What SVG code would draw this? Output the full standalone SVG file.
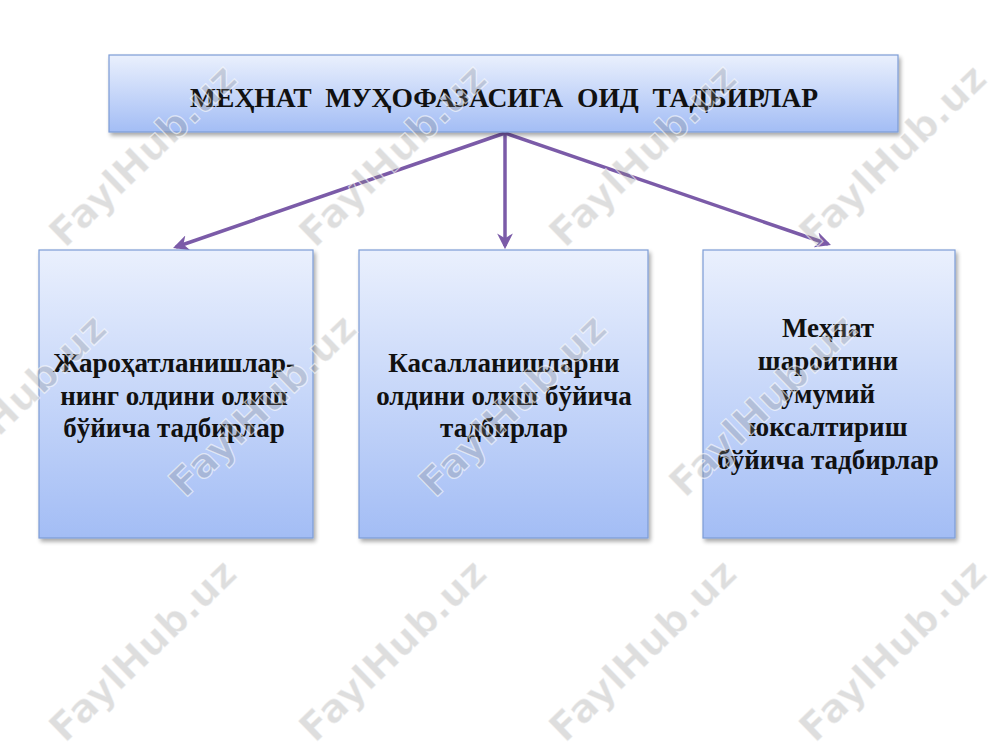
<svg xmlns="http://www.w3.org/2000/svg" width="1000" height="750" viewBox="0 0 1000 750">
  <defs>
    <linearGradient id="boxGrad" x1="0" y1="0" x2="0" y2="1">
      <stop offset="0" stop-color="#eaf0fd"/>
      <stop offset="1" stop-color="#a3bdf5"/>
    </linearGradient>
    <filter id="shadow" x="-10%" y="-10%" width="125%" height="125%">
      <feGaussianBlur in="SourceAlpha" stdDeviation="2"/>
      <feOffset dx="2" dy="3" result="b"/>
      <feComponentTransfer><feFuncA type="linear" slope="0.35"/></feComponentTransfer>
      <feMerge><feMergeNode/><feMergeNode in="SourceGraphic"/></feMerge>
    </filter>
    <marker id="arrow" viewBox="0 0 10 10" refX="8" refY="5" markerWidth="4.5" markerHeight="4.5" orient="auto" markerUnits="strokeWidth">
      <path d="M0,0 L10,5 L0,10 L3,5 Z" fill="#7b5ba8"/>
    </marker>
    <style>
      .box { fill: url(#boxGrad); stroke: #7c9cd6; stroke-width: 1.2; filter: url(#shadow); }
      .title { font-family: "Liberation Serif", "DejaVu Serif", serif; font-weight: bold; font-size: 28px; fill: #111; white-space: pre; }
      .label { font-family: "Liberation Serif", "DejaVu Serif", serif; font-weight: bold; font-size: 27px; fill: #111; text-anchor: middle; }
      .conn { stroke: #7b5ba8; stroke-width: 3.5; fill: none; marker-end: url(#arrow); }
      .wm { font-family: "DejaVu Sans", "Liberation Sans", sans-serif; font-weight: bold; font-size: 39px; fill: #8a8a8a; fill-opacity: 0.3; stroke: #ffffff; stroke-opacity: 0.6; stroke-width: 1.2; text-anchor: middle; }
    </style>
  </defs>
  <rect width="1000" height="750" fill="#ffffff"/>

  <g id="connectors">
    <line class="conn" x1="505" y1="133" x2="176" y2="247"/>
    <line class="conn" x1="505" y1="133" x2="505" y2="246"/>
    <line class="conn" x1="505" y1="133" x2="828" y2="244"/>
  </g>

  <g id="node-top">
    <rect class="box" x="109" y="55" width="789" height="77"/>
    <text class="title" x="190" y="107" xml:space="preserve" textLength="628" lengthAdjust="spacingAndGlyphs">МЕҲНАТ  МУҲОФАЗАСИГА  ОИД  ТАДБИРЛАР</text>
  </g>

  <g id="node-left">
    <rect class="box" x="39" y="250" width="274" height="288"/>
    <text class="label" x="174" y="372">Жароҳатланишлар-</text>
    <text class="label" x="174" y="405">нинг олдини олиш</text>
    <text class="label" x="174" y="437">бўйича тадбирлар</text>
  </g>

  <g id="node-middle">
    <rect class="box" x="359" y="250" width="289" height="288"/>
    <text class="label" x="504" y="372">Касалланишларни</text>
    <text class="label" x="504" y="405">олдини олиш бўйича</text>
    <text class="label" x="504" y="437">тадбирлар</text>
  </g>

  <g id="node-right">
    <rect class="box" x="703" y="250" width="252" height="288"/>
    <text class="label" x="828" y="337">Меҳнат</text>
    <text class="label" x="828" y="370">шароитини</text>
    <text class="label" x="828" y="403">умумий</text>
    <text class="label" x="828" y="436">юксалтириш</text>
    <text class="label" x="828" y="469">бўйича тадбирлар</text>
  </g>

  <g id="watermarks">
    <text class="wm" transform="translate(152,165) rotate(-44)">FaylHub.uz</text>
    <text class="wm" transform="translate(402,165) rotate(-44)">FaylHub.uz</text>
    <text class="wm" transform="translate(652,165) rotate(-44)">FaylHub.uz</text>
    <text class="wm" transform="translate(902,165) rotate(-44)">FaylHub.uz</text>
    <text class="wm" transform="translate(22,415) rotate(-44)">FaylHub.uz</text>
    <text class="wm" transform="translate(272,415) rotate(-44)">FaylHub.uz</text>
    <text class="wm" transform="translate(522,415) rotate(-44)">FaylHub.uz</text>
    <text class="wm" transform="translate(772,415) rotate(-44)">FaylHub.uz</text>
    <text class="wm" transform="translate(152,660) rotate(-44)">FaylHub.uz</text>
    <text class="wm" transform="translate(402,660) rotate(-44)">FaylHub.uz</text>
    <text class="wm" transform="translate(652,660) rotate(-44)">FaylHub.uz</text>
    <text class="wm" transform="translate(902,660) rotate(-44)">FaylHub.uz</text>
  </g>
</svg>
